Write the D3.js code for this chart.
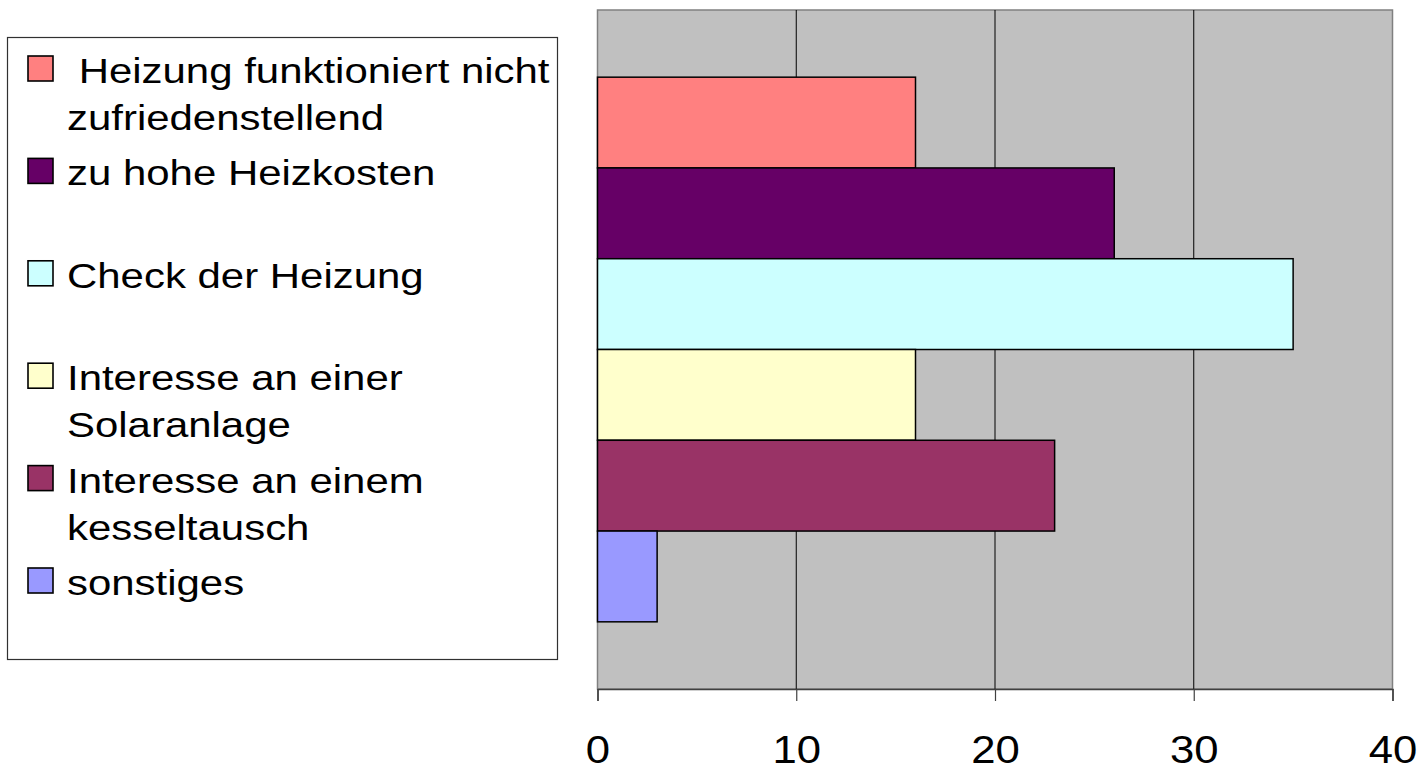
<!DOCTYPE html>
<html lang="de">
<head>
<meta charset="UTF-8">
<title>Gründe</title>
<script src="https://d3js.org/d3.v7.min.js"></script>
<style>
  body { margin: 0; background: #fff; }
  svg { display: block; font-family: "Liberation Sans", Arial, sans-serif; }
</style>
</head>
<body>
<svg width="1420" height="782"></svg>
<script>
  // Daten
  const kategorien = [
    " Heizung funktioniert nicht zufriedenstellend",
    "zu hohe Heizkosten",
    "Check der Heizung",
    "Interesse an einer Solaranlage",
    "Interesse an einem kesseltausch",
    "sonstiges"
  ];
  // Zeilenumbrüche wie in der Legende
  const legendenZeilen = [
    [" Heizung funktioniert nicht", "zufriedenstellend"],
    ["zu hohe Heizkosten"],
    ["Check der Heizung"],
    ["Interesse an einer", "Solaranlage"],
    ["Interesse an einem", "kesseltausch"],
    ["sonstiges"]
  ];
  const werte = [16, 26, 35, 16, 23, 3];
  const farben = ["#FF8080", "#660066", "#CCFFFF", "#FFFFCC", "#993366", "#9999FF"];
  const xTicks = [0, 10, 20, 30, 40];

  const svg = d3.select("svg");

  // Plotbereich
  const plot = { left: 597.5, right: 1392.5, top: 10, bottom: 689 };

  const x = d3.scaleLinear().domain([0, 40]).range([plot.left, plot.right]);
  const y = d3.scaleBand()
    .domain(kategorien)
    .range([plot.top, plot.bottom])
    .paddingInner(0)
    .paddingOuter(0.74);

  const farbe = d3.scaleOrdinal().domain(kategorien).range(farben);

  // Hintergrund
  svg.append("rect")
    .attr("x", plot.left).attr("y", plot.top)
    .attr("width", plot.right - plot.left)
    .attr("height", plot.bottom - plot.top)
    .attr("fill", "#C0C0C0")
    .attr("stroke", "#808080")
    .attr("stroke-width", 1.5);

  // Gitterlinien
  svg.append("g")
    .selectAll("line")
    .data(xTicks.slice(1, -1))
    .join("line")
      .attr("x1", d => x(d)).attr("x2", d => x(d))
      .attr("y1", plot.top).attr("y2", plot.bottom)
      .attr("stroke", "#000")
      .attr("stroke-width", 1);

  // Balken
  svg.append("g")
    .selectAll("rect")
    .data(kategorien.map((k, i) => ({ k, v: werte[i] })))
    .join("rect")
      .attr("x", x(0))
      .attr("y", d => y(d.k))
      .attr("width", d => x(d.v) - x(0))
      .attr("height", y.bandwidth())
      .attr("fill", d => farbe(d.k))
      .attr("stroke", "#000")
      .attr("stroke-width", 1.5);

  // Achse
  const achse = svg.append("g")
    .attr("transform", `translate(0,${plot.bottom})`)
    .call(d3.axisBottom(x).tickValues(xTicks).tickSize(12).tickPadding(34));
  achse.select(".domain").attr("stroke", "#404040").attr("stroke-width", 1.5);
  achse.selectAll(".tick line").attr("stroke", "#404040").attr("stroke-width", 1.2);
  achse.selectAll(".tick text")
    .attr("fill", "#000")
    .attr("transform", "scale(1.12,1)")
    .style("font-size", "39px")
    .style("font-family", "'Liberation Sans', Arial, sans-serif");

  // Legende
  const legende = svg.append("g");
  legende.append("rect")
    .attr("x", 7.5).attr("y", 37.5)
    .attr("width", 550).attr("height", 622)
    .attr("fill", "#fff")
    .attr("stroke", "#303030")
    .attr("stroke-width", 1.2);

  legendenZeilen.forEach((zeilen, i) => {
    const basis = 83 + i * 102.4;
    const eintrag = legende.append("g");
    eintrag.append("rect")
      .attr("x", 28).attr("y", basis - 27)
      .attr("width", 25).attr("height", 25)
      .attr("fill", farben[i])
      .attr("stroke", "#000")
      .attr("stroke-width", 1.6);
    eintrag.append("g")
      .attr("transform", `translate(67,${basis}) scale(1.165,1)`)
      .append("text")
      .style("font-size", "36px")
      .style("white-space", "pre")
      .attr("fill", "#000")
      .selectAll("tspan")
      .data(zeilen)
      .join("tspan")
        .attr("x", 0)
        .attr("dy", (d, j) => j === 0 ? 0 : 47)
        .text(d => d);
  });
</script>
</body>
</html>
